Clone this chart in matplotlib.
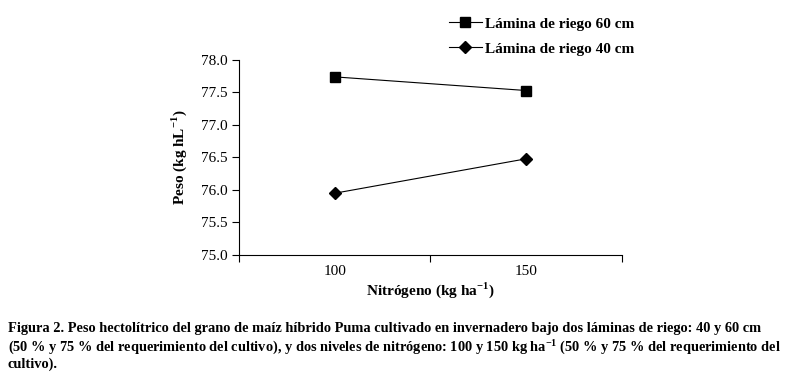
import matplotlib
matplotlib.use("Agg")
import matplotlib.pyplot as plt
import numpy as np

plt.rcParams['font.family'] = ['Liberation Serif', 'DejaVu Serif']
plt.rcParams['mathtext.fontset'] = 'custom'
plt.rcParams['mathtext.rm'] = 'Liberation Serif:bold'
plt.rcParams['mathtext.bf'] = 'Liberation Serif:bold'

nitrogen = ['100', '150']
riego_60 = [77.74, 77.53]
riego_40 = [75.95, 76.48]
series_labels = ['Lámina de riego 60 cm', 'Lámina de riego 40 cm']
caption = ("Figura 2. Peso hectolítrico del grano de maíz híbrido Puma cultivado en invernadero bajo dos láminas de riego: 40 y 60 cm\n"
           "(50 % y 75 % del requerimiento del cultivo), y dos niveles de nitrógeno: 100 y 150 kg ha$^{-1}$ (50 % y 75 % del requerimiento del\n"
           "cultivo).")

fig = plt.figure(figsize=(7.95, 3.82), dpi=100)
ax = fig.add_axes([0.3006, 0.3325, 0.4818, 0.5105])

x = np.arange(len(nitrogen))
l1, = ax.plot(x, riego_60, color='black', linewidth=0.8, marker='s', markersize=7)
l2, = ax.plot(x, riego_40, color='black', linewidth=0.8, marker='D', markersize=6.5)

ax.set_xlim(-0.5, len(nitrogen) - 0.5)
ax.set_ylim(75.0, 78.0)
yt = np.arange(75.0, 78.01, 0.5)
ax.set_yticks(yt)
ax.set_yticklabels([f'{v:.1f}' for v in yt])
ax.set_xticks(np.arange(-0.5, len(nitrogen), 1.0))
ax.set_xticklabels([])
ax.set_xticks(x, minor=True)
ax.set_xticklabels(nitrogen, minor=True)
ax.tick_params(axis='x', which='minor', length=0, pad=7, labelsize=11)
ax.tick_params(axis='x', which='major', length=5, width=0.8)
ax.tick_params(axis='y', length=5, width=0.8, labelsize=11)

for s in ['top', 'right']:
    ax.spines[s].set_visible(False)
for s in ['left', 'bottom']:
    ax.spines[s].set_linewidth(0.8)

ax.set_xlabel('Nitrógeno (kg ha$^{-1}$)', fontweight='bold', fontsize=11, labelpad=2)
ax.set_ylabel('Peso (kg hL$^{-1}$)', fontweight='bold', fontsize=11, labelpad=8)

fig.legend([l1, l2], series_labels, loc='upper left', bbox_to_anchor=(0.547, 0.992),
           frameon=False, prop={'weight': 'bold', 'size': 11},
           handlelength=2.2, handletextpad=0.15, labelspacing=0.75)

fig.text(0.01, 0.157, caption, fontsize=10.4, fontweight='bold', va='top', ha='left',
         linespacing=1.15)

fig.savefig('out.png', dpi=100)
